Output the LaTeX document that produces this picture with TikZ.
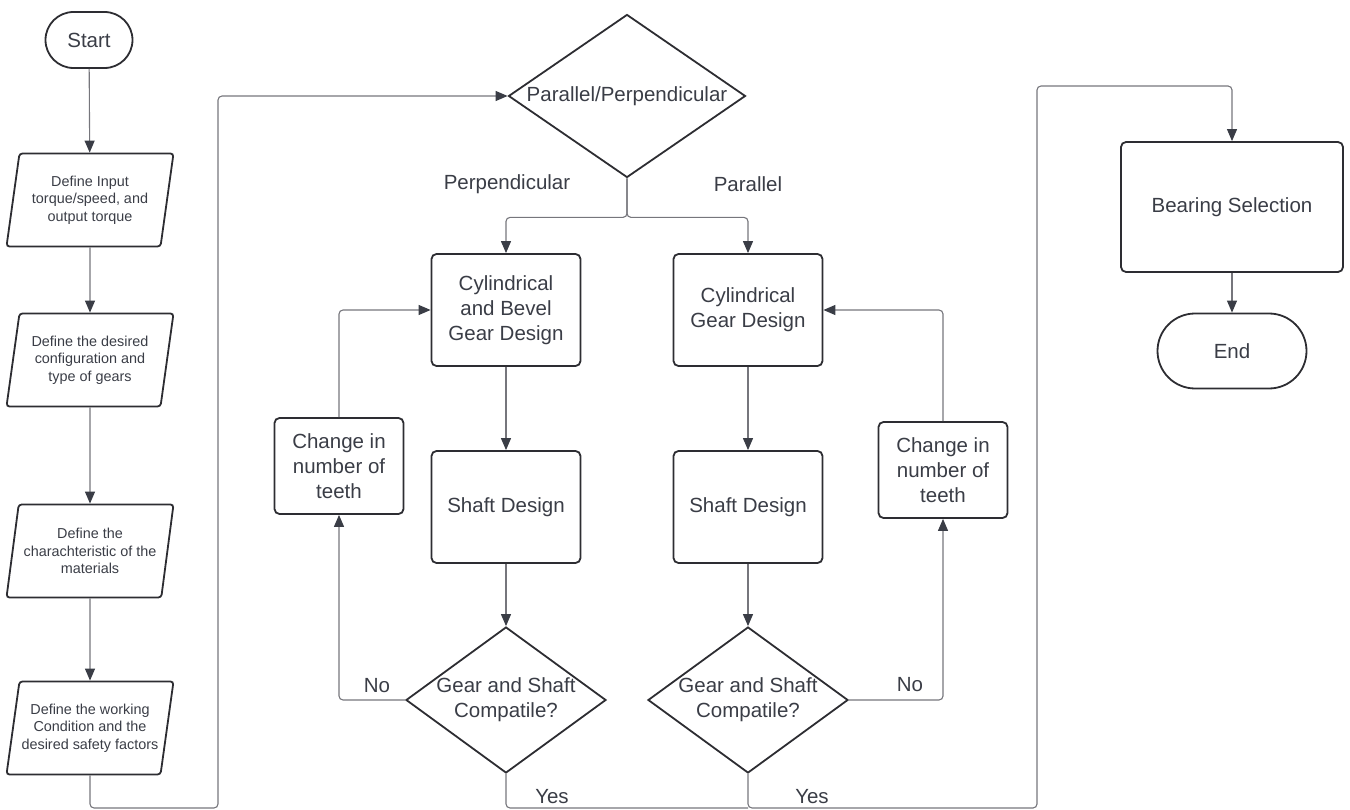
\documentclass[tikz,border=0pt]{standalone}
\usepackage{fontspec}
\setmainfont{Liberation Sans}
\usetikzlibrary{arrows.meta,positioning,shapes.geometric,shapes.misc}

\definecolor{inkgray}{RGB}{58,61,70}
\definecolor{edgegray}{RGB}{45,45,50}
\definecolor{wiregray}{RGB}{118,118,124}

% two-line text inside a diamond that does not size it
\newcommand{\dtext}[1]{\makebox[0pt]{\begin{tabular}{@{}c@{}}#1\end{tabular}}}

\begin{document}
\begin{tikzpicture}[x=1pt,y=-1pt]
		% Styles
		\tikzset{
			base/.style={draw=edgegray, line width=1.8pt, text=inkgray, align=center, inner sep=0pt, font=\fontsize{20.5}{25}\selectfont},
			process/.style={base, rectangle, rounded corners=5pt, minimum width=149pt, minimum height=112pt},
			terminal/.style={base, rounded rectangle},
			inout/.style={base, trapezium, trapezium left angle=75, trapezium right angle=105, trapezium stretches body, rounded corners=3pt, minimum width=167pt, minimum height=93pt, font=\fontsize{14.4}{17.5}\selectfont},
			decision/.style={base, diamond},
			wire/.style={draw=wiregray, line width=1.1pt, rounded corners=4pt},
			flow/.style={wire, -{Triangle[length=12pt, width=10pt, color=inkgray]}},
			tag/.style={text=inkgray, inner sep=0pt, font=\fontsize{20.5}{25}\selectfont}
		}

		\useasboundingbox (0,0) rectangle (1350,810);

		% Input column
		\node[terminal, minimum width=87pt, minimum height=56pt] (start) at (89,40) {Start};
		\node[inout] (in1) at (90,200) {Define Input\\torque/speed, and\\output torque};
		\node[inout] (in2) at (90,360) {Define the desired\\configuration and\\type of gears};
		\node[inout] (in3) at (90,551) {Define the\\charachteristic of the\\materials};
		\node[inout] (in4) at (90,728) {Define the working\\Condition and the\\desired safety factors};

		% Gear and shaft design
		\node[decision, minimum width=237pt, minimum height=163pt] (arr) at (627,96) {\makebox[0pt]{Parallel/Perpendicular}};
		\node[process] (cylL) at (506,310) {Cylindrical\\and Bevel\\Gear Design};
		\node[process] (cylR) at (748,310) {Cylindrical\\Gear Design};
		\node[process] (shaftL) at (506,507) {Shaft Design};
		\node[process] (shaftR) at (748,507) {Shaft Design};
		\node[process, minimum width=129pt, minimum height=96pt] (chgL) at (339,466) {Change in\\number of\\teeth};
		\node[process, minimum width=129pt, minimum height=96pt] (chgR) at (943,470) {Change in\\number of\\teeth};
		\node[decision, minimum width=200pt, minimum height=146pt] (cmpL) at (506,700) {\dtext{Gear and Shaft\\Compatile?}};
		\node[decision, minimum width=200pt, minimum height=146pt] (cmpR) at (748,700) {\dtext{Gear and Shaft\\Compatile?}};

		% Bearings
		\node[process, minimum width=222pt, minimum height=130pt] (bear) at (1232,207) {Bearing Selection};
		\node[terminal, minimum width=149pt, minimum height=75pt] (finish) at (1232,351) {End};

		% Branch labels
		\node[tag] (perp) at (507,184) {Perpendicular};
		\node[tag] (para) at (748,184) {Parallel};
		\node[tag] (noL) at (377,686) {No};
		\node[tag] (noR) at (910,685) {No};
		\node[tag] (yesL) at (552,797) {Yes};
		\node[tag] (yesR) at (812,797) {Yes};

		% Connectors
		\coordinate (loopbot) at (218,808);
		\coordinate (yesbot) at (1037,808);
		\coordinate (yestop) at (1037,86);
		\draw[flow] (start) -- (in1);
		\draw[flow] (in1) -- (in2);
		\draw[flow] (in2) -- (in3);
		\draw[flow] (in3) -- (in4);
		\draw[flow] (in4) |- (loopbot) |- (arr.west);
		\draw[flow] (arr.south) -- ++(0,39) -| (cylL.north);
		\draw[flow] (arr.south) -- ++(0,39) -| (cylR.north);
		\draw[flow] (cylL) -- (shaftL);
		\draw[flow] (cylR) -- (shaftR);
		\draw[flow] (shaftL) -- (cmpL);
		\draw[flow] (shaftR) -- (cmpR);
		\draw[flow] (cmpL.west) -| (chgL.south);
		\draw[flow] (chgL.north) |- (cylL.west);
		\draw[flow] (cmpR.east) -| (chgR.south);
		\draw[flow] (chgR.north) |- (cylR.east);
		\draw[wire] (cmpL.south) |- (cmpR.south |- yesbot);
		\draw[flow] (cmpR.south) |- (yesbot) -- (yestop) -| (bear.north);
		\draw[flow] (bear) -- (finish);

	\end{tikzpicture}
\end{document}
